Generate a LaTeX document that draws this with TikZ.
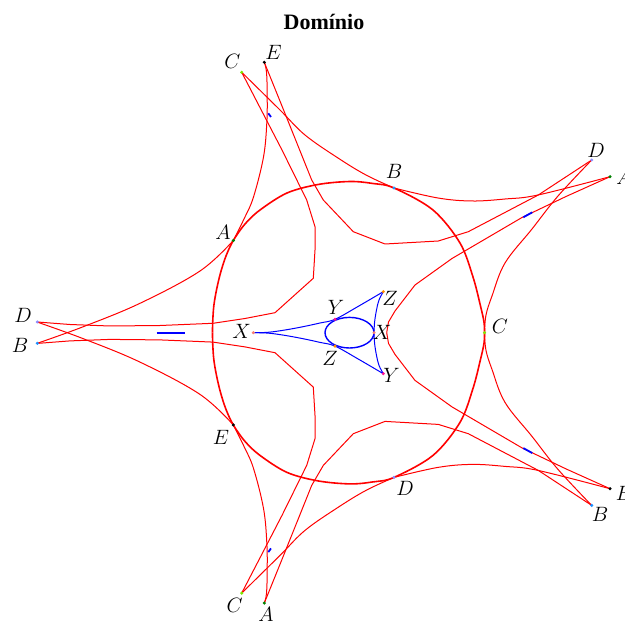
\documentclass[tikz,border=0pt]{standalone}
\usepackage{fontspec}
\setmainfont{Liberation Serif}
\definecolor{cC}{RGB}{127,230,0}
\definecolor{cA}{RGB}{0,128,0}
\definecolor{cB}{RGB}{30,144,255}
\definecolor{cD}{RGB}{140,140,255}
\definecolor{cE}{RGB}{0,0,0}
\definecolor{cX}{RGB}{250,128,114}
\definecolor{cY}{RGB}{255,20,147}
\definecolor{cZ}{RGB}{255,140,0}
\newcommand\halfcurves{%
  % thick closed curve (half)
  \draw[thickred] plot[smooth,tension=0.55] coordinates {(212.5,332.7) (212.7,322) (213.8,306) (216.5,290) (220.5,273) (226,256) (233.3,240.5) (245,224) (260,210) (287,193) (318,184.5) (350,181.5) (373,183.5) (394,188) (433,210) (460,243) (473,277) (480.5,306) (484,322) (484.5,332.7)};
  % long thin curves
  \draw[thinred] plot[smooth,tension=0.6] coordinates {(264.3,62.3) (266.5,72) (267.2,95) (266.8,123) (263.5,157) (253.5,197) (244,219) (233.3,240.5)};
  \draw[thinred] plot[smooth,tension=0.6] coordinates {(37.3,343.3) (83.3,326.7) (140,303.3) (200,271) (233.3,240.5)};
  \draw[thinred] plot[smooth,tension=0.6] coordinates {(394,188) (438,198) (472,201) (505,199) (538,195) (610,176.7)};
  \draw[thinred] plot[smooth,tension=0.6] coordinates {(241.7,72.3) (280,110) (305,135) (338,158) (366,175) (394,188)};
  \draw[thinred] plot[smooth,tension=0.6] coordinates {(591.7,160) (558,196) (532,229) (505,263) (492,296) (486,315) (484.5,332.7)};
  % star edges
  \draw[thinred] plot coordinates {(241.7,72.3) (282,150) (306.7,200) (315,226.7) (315,250) (313.3,278.3) (275,312.7) (245,318.5) (213,323.3) (160,325.5) (110,326) (70,324.5) (37.3,322)};
  \draw[thinred] plot coordinates {(264.3,62.3) (284,111) (305,163.3) (311.7,180) (323.3,200) (353.3,231.7) (385,244) (438.3,241) (468.3,231.7) (538.3,195) (591.7,160)};
  \draw[thinred] plot coordinates {(610,176.7) (566,196.5) (522,217.5) (452,258.5) (415,285) (395,311) (388.5,322) (386.7,332.7)};
  % blue marks
  \draw[bluemark] (268.3,113.3) -- (271,117);
  \draw[bluemark] (523.3,217.3) -- (532.3,212.3);
  % deltoid half
  \draw[blueline] plot[smooth,tension=0.6] coordinates {(253.3,332.7) (268,332.3) (285,330) (303,326.7) (320,323) (335,319.3) (358,306.5) (383.3,291.7)};
  \draw[blueline] plot[smooth,tension=0.6] coordinates {(383.3,291.7) (379,300) (376.5,310) (374.6,322) (374,332.7)};
}
\begin{document}
\begin{tikzpicture}[x=1pt,y=-1pt,
  thinred/.style={red, line width=1pt, line join=round},
  thickred/.style={red, line width=1.6pt, line join=round},
  bluemark/.style={blue, line width=1.8pt},
  blueline/.style={blue, line width=1pt},
  pdot/.style={circle, fill=#1, inner sep=0pt, minimum size=3.4pt},
  lbl/.style={font=\fontsize{21}{24}\selectfont, inner sep=0pt}]
\useasboundingbox (0,0) rectangle (625,623);
\halfcurves
\begin{scope}[yshift=-665.4pt, yscale=-1]
\halfcurves
\end{scope}
\draw[blue, line width=1.4pt] (349.5,332.7) ellipse [x radius=24.5, y radius=15.3];
\draw[bluemark] (156.7,332.7) -- (185,332.7);
% dots
\node[pdot=cC] (Ctop) at (241.7,72.3) {};
\node[pdot=cE] (Etop) at (264.3,62.3) {};
\node[pdot=cD] (Dright) at (591.7,160) {};
\node[pdot=cA] (Aright) at (610,176.7) {};
\node[pdot=cE] (Eright) at (610,488.7) {};
\node[pdot=cB] (Bright) at (591.7,505.4) {};
\node[pdot=cD] (Dleft) at (37.3,322) {};
\node[pdot=cB] (Bleft) at (37.3,343.3) {};
\node[pdot=cC] (Cbot) at (241.7,593.1) {};
\node[pdot=cA] (Abot) at (264.3,603.1) {};
\node[pdot=cA] (Ain) at (233.3,240.5) {};
\node[pdot=cB] (Bin) at (394,188) {};
\node[pdot=cC] (Cin) at (484.5,332.7) {};
\node[pdot=cD] (Din) at (394,477.4) {};
\node[pdot=cE] (Ein) at (233.3,424.9) {};
\node[pdot=cX] (Xl) at (253.3,332.7) {};
\node[pdot=cY] (Yu) at (335,319.3) {};
\node[pdot=cZ] (Zu) at (383.3,291.7) {};
\node[pdot=cX] (Xr) at (374,332.7) {};
\node[pdot=cZ] (Zl) at (335,346.1) {};
\node[pdot=cY] (Yl) at (383.3,373.7) {};
% labels
\node[font=\bfseries\fontsize{22}{26}\selectfont, anchor=base, inner sep=0pt] (title) at (324,29.3) {Domínio};
\node[lbl] (lCtop) at (232.5,61) {$C$};
\node[lbl] (lEtop) at (273.5,52.5) {$E$};
\node[lbl] (lDright) at (596,150) {$D$};
\node[lbl] (lAright) at (624,177.5) {$A$};
\node[lbl] (lEright) at (624,493) {$E$};
\node[lbl] (lBright) at (600,514.5) {$B$};
\node[lbl] (lBleft) at (20,345) {$B$};
\node[lbl] (lDleft) at (23,315) {$D$};
\node[lbl] (lAin) at (223,232) {$A$};
\node[lbl] (lBin) at (394,171.5) {$B$};
\node[lbl] (lCin) at (500,326.5) {$C$};
\node[lbl] (lDin) at (405,488) {$D$};
\node[lbl] (lEin) at (221,437.5) {$E$};
\node[lbl] (lCbot) at (234.7,605) {$C$};
\node[lbl] (lAbot) at (266,614) {$A$};
\node[lbl] (lXl) at (241.7,331.7) {$X$};
\node[lbl] (lYu) at (336,307.7) {$Y$};
\node[lbl] (lZu) at (390,298) {$Z$};
\node[lbl] (lXr) at (382,332.7) {$X$};
\node[lbl] (lZl) at (330,358) {$Z$};
\node[lbl] (lYl) at (391.5,375) {$Y$};
\end{tikzpicture}
\end{document}
